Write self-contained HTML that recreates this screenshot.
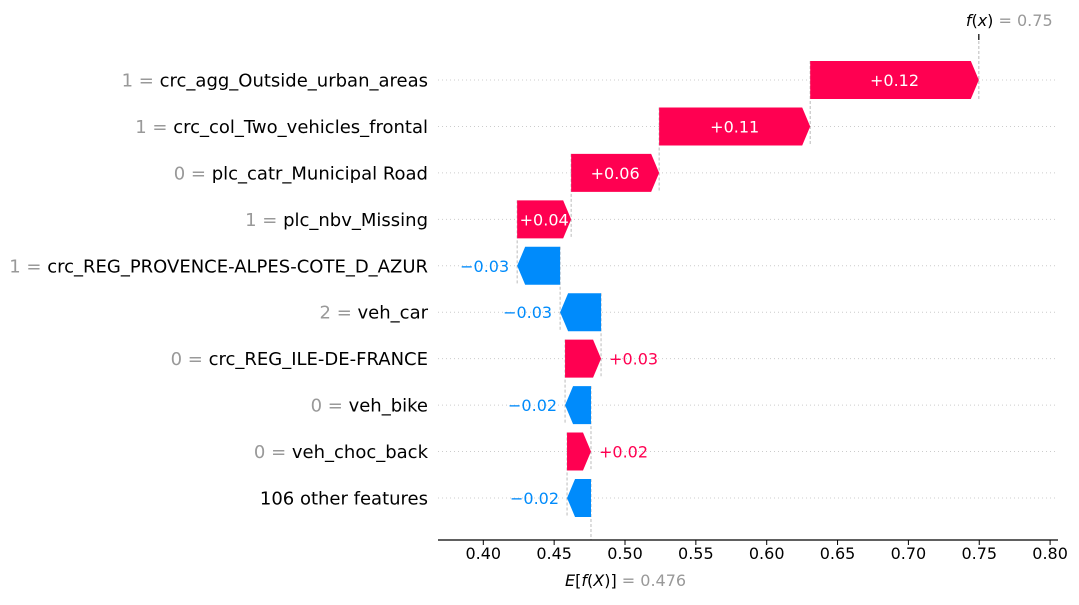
<!DOCTYPE html>
<html><head><meta charset="utf-8"><style>
html,body{margin:0;padding:0;background:#fff;}
svg text{font-family:"DejaVu Sans","Liberation Sans",sans-serif;}
</style></head><body>
<svg id="chart" width="1079" height="600" viewBox="0 0 1079 600" xmlns="http://www.w3.org/2000/svg"></svg>
<script>
const featureValues = ["1","1","0","1","1","2","0","0","0",""];
const featureNames = ["crc_agg_Outside_urban_areas","crc_col_Two_vehicles_frontal","plc_catr_Municipal Road","plc_nbv_Missing","crc_REG_PROVENCE-ALPES-COTE_D_AZUR","veh_car","crc_REG_ILE-DE-FRANCE","veh_bike","veh_choc_back","106 other features"];
const shapValues = [0.119,0.1066,0.0621,0.0381,-0.0303,-0.0289,0.0254,-0.0183,0.0169,-0.0169];
const shapLabels = ["+0.12","+0.11","+0.06","+0.04","\u22120.03","\u22120.03","+0.03","\u22120.02","+0.02","\u22120.02"];
const baseValue = 0.476;
const fxLabel = "0.75";
const baseLabel = "0.476";
const xTicks = [0.40,0.45,0.50,0.55,0.60,0.65,0.70,0.75,0.80];
const xTickLabels = ["0.40","0.45","0.50","0.55","0.60","0.65","0.70","0.75","0.80"];

const svg = document.getElementById('chart');
const NS = 'http://www.w3.org/2000/svg';
const x = v => 483.3 + (v - 0.40) * 1417;
const rowY = i => 80 + i * 46.44;
const H = 38, HEAD = 8;
const RED = '#ff0051', BLUE = '#008bfb';
function mk(tag, attrs, parent){ const e = document.createElementNS(NS, tag); for (const k in attrs) e.setAttribute(k, attrs[k]); (parent||svg).appendChild(e); return e; }

const n = shapValues.length;
const starts = new Array(n), ends = new Array(n);
let cur = baseValue;
for (let i = n - 1; i >= 0; i--) { starts[i] = cur; cur += shapValues[i]; ends[i] = cur; }
const fx = cur;

for (let i = 0; i < n; i++) {
  const g = mk('line', {x1: 438, x2: 1058, y1: rowY(i), y2: rowY(i), stroke: '#ccc', 'stroke-width': 1, 'stroke-dasharray': '1,3'});
  
  
}
let l = mk('line', {x1: x(baseValue), x2: x(baseValue), y1: rowY(n-1) - H/2, y2: 540, stroke: '#bbb', 'stroke-width': 1, 'stroke-dasharray': '3,2'});


l = mk('line', {x1: x(fx), x2: x(fx), y1: 36, y2: rowY(0) + H/2, stroke: '#bbb', 'stroke-width': 1, 'stroke-dasharray': '3,2'});


l = mk('line', {x1: x(fx), x2: x(fx), y1: 34, y2: 40, stroke: '#000', 'stroke-width': 1.2});


for (let i = 0; i < n - 1; i++) {
  const c = mk('line', {x1: x(starts[i]), x2: x(starts[i]), y1: rowY(i) - H/2, y2: rowY(i+1) + H/2, stroke: '#bbb', 'stroke-width': 1, 'stroke-dasharray': '3,2'});
  
  
}
for (let i = 0; i < n; i++) {
  const y = rowY(i), t = y - H/2, b = y + H/2;
  const x0 = x(starts[i]), x1 = x(ends[i]);
  const pos = shapValues[i] >= 0;
  const w = Math.abs(x1 - x0);
  const hd = Math.min(HEAD, w);
  let pts;
  if (pos) pts = `${x0},${t} ${x1-hd},${t} ${x1},${y} ${x1-hd},${b} ${x0},${b}`;
  else pts = `${x0},${t} ${x1+hd},${t} ${x1},${y} ${x1+hd},${b} ${x0},${b}`;
  const p = mk('polygon', {points: pts, fill: pos ? RED : BLUE});
  
  
  let tx;
  if (w > 50) {
    tx = mk('text', {x: (x0 + x1)/2, y: y + 6, 'text-anchor': 'middle', 'font-size': 16, fill: '#fff'});
  } else if (pos) {
    tx = mk('text', {x: x1 + 8, y: y + 6, 'text-anchor': 'start', 'font-size': 16, fill: RED});
  } else {
    tx = mk('text', {x: x1 - 8, y: y + 6, 'text-anchor': 'end', 'font-size': 16, fill: BLUE});
  }
  tx.textContent = shapLabels[i];
  
  
  const fl = mk('text', {x: 428, y: y + 6.5, 'text-anchor': 'end', 'font-size': 18, fill: '#000'});
  
  
  if (featureValues[i] !== '') {
    const s = mk('tspan', {fill: '#999'}, fl); s.textContent = featureValues[i] + ' = ';
  }
  const s2 = mk('tspan', {fill: '#000'}, fl); s2.textContent = featureNames[i];
}
l = mk('line', {x1: 438, x2: 1058, y1: 540, y2: 540, stroke: '#000', 'stroke-width': 1.2});


xTicks.forEach((v, k) => {
  const tk = mk('line', {x1: x(v), x2: x(v), y1: 540, y2: 545, stroke: '#000', 'stroke-width': 1});
  
  
  const tl = mk('text', {x: x(v), y: 559, 'text-anchor': 'middle', 'font-size': 16, fill: '#000'});
  tl.textContent = xTickLabels[k];
  
  
});
let el = mk('text', {x: x(baseValue) - 26, y: 586, 'text-anchor': 'start', 'font-size': 16});


let a = mk('tspan', {fill: '#000'}, el); a.innerHTML = '<tspan font-style="italic">E</tspan>[<tspan font-style="italic">f</tspan>(<tspan font-style="italic">X</tspan>)]';
a = mk('tspan', {fill: '#999'}, el); a.textContent = ' = ' + baseLabel;
el = mk('text', {x: x(fx) - 13, y: 26, 'text-anchor': 'start', 'font-size': 16});


a = mk('tspan', {fill: '#000'}, el); a.innerHTML = '<tspan font-style="italic">f</tspan>(<tspan font-style="italic">x</tspan>)';
a = mk('tspan', {fill: '#999'}, el); a.textContent = ' = ' + fxLabel;
</script>
</body></html>
